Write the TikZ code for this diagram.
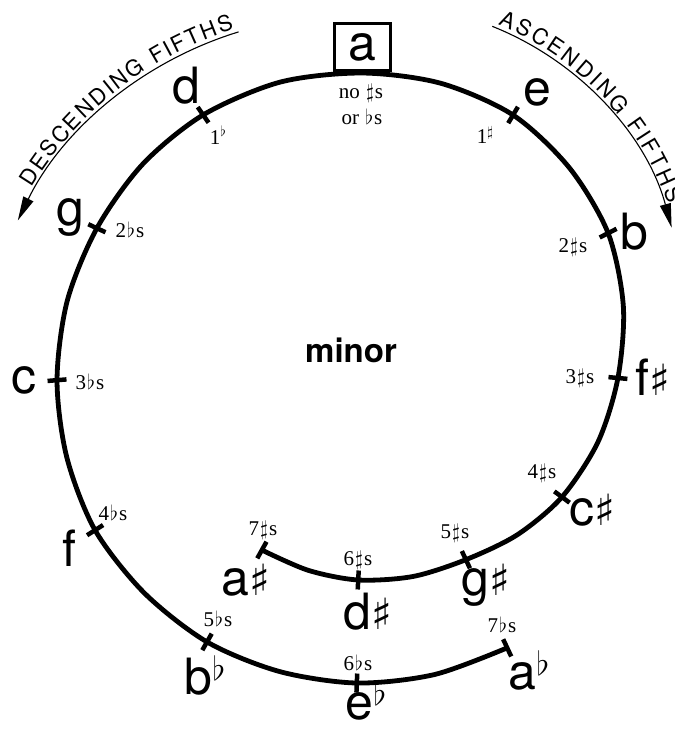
\documentclass[tikz,border=0pt]{standalone}
\usepackage{graphicx}
\usepackage{fontspec}
\newfontfamily\keyfont{TeX Gyre Heros}
\newfontfamily\numfont{Liberation Serif}
\newfontfamily\symfont{DejaVu Sans}
\usetikzlibrary{decorations.text,arrows.meta}
\newcommand\shp{\hspace{1pt}$\sharp$\hspace{1pt}}
\newcommand\flt{\hspace{1pt}$\flat$\hspace{1pt}}
\newcommand\bigshp{{\symfont\fontsize{43}{43}\selectfont ♯}}
\newcommand\bigflt{\raisebox{14pt}{\fontsize{20}{20}\selectfont\scalebox{1.6}{$\flat$}}}
\begin{document}
\begin{tikzpicture}[x=1pt,y=-1pt,
  keylbl/.style={font=\keyfont\fontsize{50}{50}\selectfont, inner sep=0pt},
  sig/.style={font=\numfont\fontsize{21}{21}\selectfont, inner sep=0pt},
  tickmark/.style={line width=4.5pt},
  spiral/.style={line width=4.8pt},
  guide/.style={line width=1.1pt},
  tip/.style={-{Triangle[length=24pt,width=11pt]}}
]
\useasboundingbox (0,0) rectangle (674,730);

% spiral of keys
\begin{scope}[shift={(370,355)}]
 \draw[spiral] plot[smooth] coordinates {(119:223) (106:224) (93:225.3) (79:225.6) (64.9:226) (50.7:232.4) (36.5:238.8) (20.9:244) (5.3:249) (-10.9:258) (-27.1:267.5) (-43.2:273.5) (-59.2:279.4) (-75.4:280.8) (-91.6:282.1) (-108.2:287.3) (-124.8:292.4) (-140:296.8) (-155.1:301.1) (-169.9:307.6) (-184.6:314) (-198.6:320) (-212.5:326) (-226.5:328) (-240.4:330) (-254:329.2) (-267.7:328.3) (-281.4:326) (-295.1:323.4)};
 \coordinate (Pa) at (-91.6:282.1);
 \foreach \n/\a/\r in {as/119/223, ds/93/225.3, gs/64.9/226, cs/36.5/238.8, fs/5.3/249, b/-27.1/267.5, e/-59.2/279.4, d/-124.8/292.4, g/-155.1/301.1, c/-184.6/314, f/-212.5/326, bb/-240.4/330, eb/-267.7/328.3, ab/-295.1/323.4}{
   \coordinate (P\n) at (\a:\r);
   \draw[tickmark] (\a:{\r-9.5}) -- (\a:{\r+9.5});
 }
\end{scope}

% box for a
\node[keylbl, draw, line width=3.3pt, minimum width=56pt, minimum height=47pt] (Ka) at (362.5,47) {a};
\node[sig] (Sa1) at (361,93) {no \shp s};
\node[sig] (Sa2) at (362,117) {or \flt s};

% key letters
\node[keylbl] (Kd) at (186,86) {d};
\node[keylbl] (Kg) at (70,217) {g};
\node[keylbl] (Kc) at (24,380) {c};
\node[keylbl] (Kf) at (69,548) {f};
\node[keylbl] (Kbb) at (205,675) {b\bigflt};
\node[keylbl] (Keb) at (366,700) {e\bigflt};
\node[keylbl] (Kab) at (529,670) {a\bigflt};
\node[keylbl] (Ke) at (537,92) {e};
\node[keylbl] (Kb) at (634,232) {b};
\node[keylbl, anchor=west] (Kfs) at (635,377) {f\bigshp};
\node[keylbl] (Kcs) at (592,510) {c\bigshp};
\node[keylbl] (Kgs) at (486,585) {g\bigshp};
\node[keylbl] (Kds) at (368,612) {d\bigshp};
\node[keylbl] (Kas) at (246,580) {a\bigshp};

% signatures
\node[sig] (Sd) at (218,135) {1$^\flat$};
\node[sig] (Sg) at (130,230) {2\flt s};
\node[sig] (Sc) at (90,382) {3\flt s};
\node[sig] (Sf) at (113,513) {4\flt s};
\node[sig] (Sbb) at (218,619) {5\flt s};
\node[sig] (Seb) at (358,663) {6\flt s};
\node[sig] (Sab) at (502,625) {7\flt s};
\node[sig] (Se) at (485,135) {1$^\sharp$};
\node[sig] (Sb) at (573,247) {2\shp s};
\node[sig] (Sfs) at (580,378) {3\shp s};
\node[sig] (Scs) at (542,473) {4\shp s};
\node[sig] (Sgs) at (455,533) {5\shp s};
\node[sig] (Sds) at (358,560) {6\shp s};
\node[sig] (Sas) at (263,530) {7\shp s};

\node[font=\keyfont\bfseries\fontsize{33}{33}\selectfont, inner sep=0pt] (minor) at (351,350) {minor};

% descending fifths
\begin{scope}[shift={(345,380)}]
 \draw[guide, tip] (-107:364) arc[start angle=-107, end angle=-154, radius=364];
 \path[decorate, decoration={text along path, raise=4pt, text align={fit to path},
   text={|\keyfont\fontsize{22}{22}\selectfont|DESCENDING FIFTHS}}]
   (-148.5:364) arc[start angle=-148.5, end angle=-107.5, radius=364];
\end{scope}
% ascending fifths
\begin{scope}[shift={(381,306)}]
 \draw[guide, tip] (-68.3:301) arc[start angle=-68.3, end angle=-15.1, radius=301];
 \path[decorate, decoration={text along path, raise=4pt, text align={fit to path},
   text={|\keyfont\fontsize{22}{22}\selectfont|ASCENDING FIFTHS}}]
   (-67.5:301) arc[start angle=-67.5, end angle=-19.5, radius=301];
\end{scope}
\end{tikzpicture}
\end{document}
